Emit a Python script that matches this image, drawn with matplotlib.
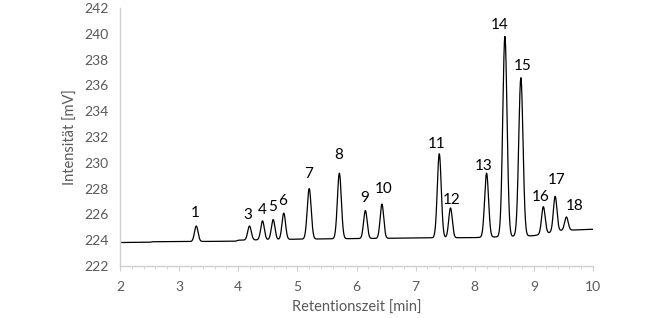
import numpy as np
import matplotlib
matplotlib.use("Agg")
import matplotlib.pyplot as plt
from matplotlib.ticker import MultipleLocator

plt.rcParams['font.family'] = ['Lato', 'DejaVu Sans']

# peaks: retention time [min], apex [mV], width (sigma) [min]
peak_ids = ["1", "3", "4", "5", "6", "7", "8", "9", "10", "11", "12", "13", "14", "15", "16", "17", "18"]
peak_time = [3.29, 4.19, 4.41, 4.59, 4.77, 5.20, 5.71, 6.15, 6.43, 7.40, 7.59, 8.20, 8.51, 8.78, 9.16, 9.36, 9.55]
peak_apex = [225.1, 225.1, 225.5, 225.6, 226.1, 228.0, 229.2, 226.3, 226.8, 230.7, 226.5, 229.2, 239.8, 236.6, 226.6, 227.4, 225.8]
peak_sigma = [0.030, 0.030, 0.030, 0.030, 0.030, 0.033, 0.033, 0.030, 0.030, 0.033, 0.030, 0.033, 0.036, 0.036, 0.030, 0.030, 0.030]

# baseline drift
base_time = [2.0, 2.50, 2.55, 3.95, 4.00, 5.0, 7.2, 8.0, 9.0, 9.45, 10.0]
base_val = [223.82, 223.84, 223.88, 223.92, 224.00, 224.08, 224.18, 224.2, 224.35, 224.75, 224.85]

# label offsets in pixels (dx, dy) relative to peak apex
label_off = [(-1, 13), (-2, 11), (0, 11), (-1, 13), (-1, 12), (-1, 15), (-1, 18), (-1, 13), (2, 15),
             (-3, 10), (1, 8), (-3, 7), (-5, 11), (2, 12), (-3, 10), (1, 16), (8, 11)]

t = np.linspace(2, 10, 4000)
baseline = np.interp(t, base_time, base_val)
signal = baseline.copy()
for tp, ap, sg in zip(peak_time, peak_apex, peak_sigma):
    amp = ap - np.interp(tp, base_time, base_val)
    signal += amp * np.exp(-0.5 * ((t - tp) / sg) ** 2)

fig = plt.figure(figsize=(6.6, 3.18), dpi=100)
ax = fig.add_axes([120 / 660, 1 - 266 / 318, 473 / 660, 258 / 318])
ax.plot(t, signal, color='black', lw=0.9)

for name, tp, ap, (dx, dy) in zip(peak_ids, peak_time, peak_apex, label_off):
    ax.annotate(name, (tp, ap), xytext=(dx, dy), textcoords='offset pixels',
                ha='center', va='center', fontsize=11, color='black')

ax.set_xlim(2, 10)
ax.set_ylim(222, 242)
ax.xaxis.set_major_locator(MultipleLocator(1))
ax.xaxis.set_minor_locator(MultipleLocator(0.2))
ax.yaxis.set_major_locator(MultipleLocator(2))

grey = '#595959'
for s in ['top', 'right']:
    ax.spines[s].set_visible(False)
for s in ['left', 'bottom']:
    ax.spines[s].set_color('#d0d0d0')
    ax.spines[s].set_linewidth(1.0)
ax.tick_params(axis='x', which='major', length=3.5, color='#d0d0d0', direction='out', labelsize=10, labelcolor=grey, pad=7)
ax.tick_params(axis='x', which='minor', length=2.5, color='#d0d0d0', direction='out')
ax.tick_params(axis='y', length=0, labelsize=10, labelcolor=grey, pad=8)

ax.set_xlabel('Retentionszeit [min]', fontsize=10.5, color=grey, labelpad=6)
ax.set_ylabel('Intensität [mV]', fontsize=10.5, color=grey, labelpad=5)

fig.savefig('out.png', dpi=100)
